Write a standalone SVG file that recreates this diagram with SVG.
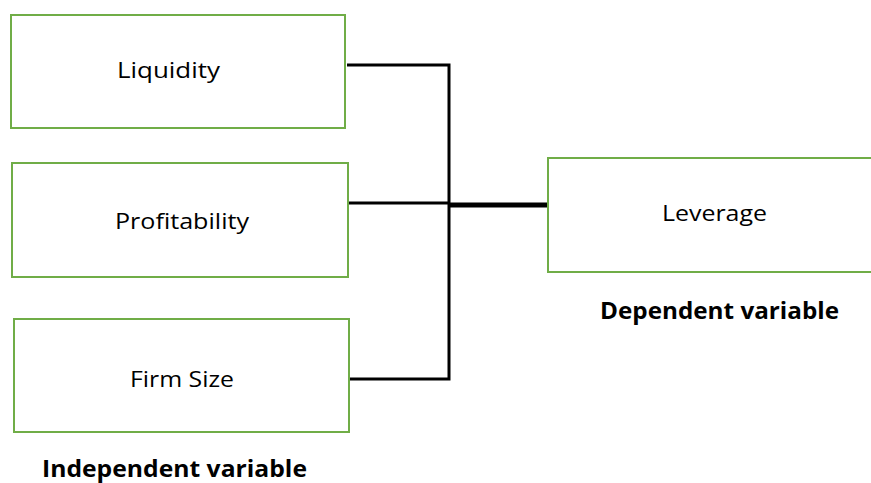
<svg xmlns="http://www.w3.org/2000/svg" width="871" height="483" viewBox="0 0 871 483">
<style>
.box{fill:#fff;stroke:#70AD47;stroke-width:2}
.lbl{font-family:"Open Sans","Liberation Sans",sans-serif;font-size:22px;fill:#000}
.cap{font-family:"Open Sans","Liberation Sans",sans-serif;font-size:23px;font-weight:bold;fill:#000}
.ln{stroke:#000;stroke-width:3;fill:none}
</style>
<rect width="871" height="483" fill="#fff"/>
<g id="connectors">
<polyline class="ln" points="347,65 449,65 449,379 349,379"/>
<line class="ln" x1="349" y1="203" x2="449" y2="203"/>
<line x1="449" y1="205" x2="547" y2="205" stroke="#000" stroke-width="5"/>
</g>
<g id="liquidity">
<rect class="box" x="11" y="15" width="334" height="113"/>
<text class="lbl" x="117" y="78" textLength="103" lengthAdjust="spacingAndGlyphs">Liquidity</text>
</g>
<g id="profitability">
<rect class="box" x="12" y="163" width="336" height="114"/>
<text class="lbl" x="115" y="229" textLength="134" lengthAdjust="spacingAndGlyphs">Profitability</text>
</g>
<g id="firmsize">
<rect class="box" x="14" y="319" width="335" height="113"/>
<text class="lbl" x="130" y="387" textLength="104" lengthAdjust="spacingAndGlyphs">Firm Size</text>
</g>
<g id="leverage">
<rect class="box" x="548" y="158" width="340" height="114"/>
<text class="lbl" x="662" y="221" textLength="105" lengthAdjust="spacingAndGlyphs">Leverage</text>
</g>
<g id="captions">
<text class="cap" x="42" y="477" textLength="265" lengthAdjust="spacingAndGlyphs">Independent variable</text>
<text class="cap" x="600" y="319" textLength="239" lengthAdjust="spacingAndGlyphs">Dependent variable</text>
</g>
</svg>
